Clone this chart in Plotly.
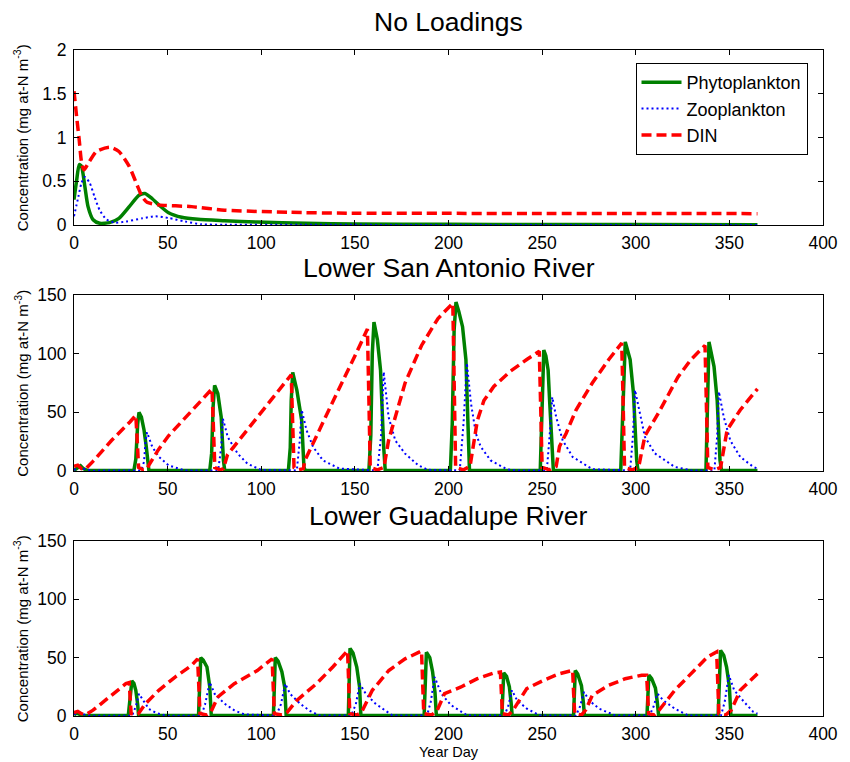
import plotly.graph_objects as go
from plotly.subplots import make_subplots

# ---------------- data: No Loadings ----------------
nl_phyto_day = [0, 1.4, 2.8, 4, 5.8, 7.5, 10.2, 13.7, 19, 24, 29.5, 34.7, 37.9, 41.8, 45.3, 50.5, 57.5, 66.3, 80.4, 97.9, 124, 150, 200, 250, 300, 365]
nl_phyto = [0.29, 0.51, 0.69, 0.67, 0.44, 0.21, 0.06, 0.02, 0.027, 0.076, 0.21, 0.34, 0.36, 0.30, 0.23, 0.14, 0.088, 0.065, 0.05, 0.034, 0.02, 0.012, 0.008, 0.006, 0.005, 0.004]
nl_zoo_day = [0, 2.3, 4, 5.8, 8.4, 11, 13.7, 17.2, 21.6, 27.7, 36.5, 43.5, 50.5, 59.3, 68, 80, 120, 200, 365]
nl_zoo = [0.10, 0.32, 0.48, 0.55, 0.48, 0.32, 0.17, 0.065, 0.027, 0.04, 0.076, 0.10, 0.08, 0.04, 0.008, 0.003, 0.002, 0.001, 0.001]
nl_din_day = [0, 1.4, 2.8, 4, 5.3, 7.5, 12, 19, 24, 29.5, 34, 36.5, 39, 45.3, 62.8, 80.4, 115, 146, 200, 250, 300, 365]
nl_din = [1.53, 1.24, 0.97, 0.72, 0.63, 0.70, 0.84, 0.89, 0.84, 0.67, 0.44, 0.32, 0.26, 0.23, 0.21, 0.17, 0.145, 0.135, 0.133, 0.132, 0.131, 0.13]

# ---------------- data: Lower San Antonio River ----------------
sa_din_day = [0, 2, 4, 6, 10, 20, 30, 33, 33.8, 34.5, 37, 39, 40, 45, 50.5, 62.8, 73.7, 74.5, 75.2, 78, 79.8, 82, 90, 100, 110, 116, 116.8, 117.5, 120, 122.5, 123.3, 130, 141.8, 150, 156.7, 157.5, 158.2, 162, 165.5, 168, 176.8, 185.6, 194.4, 202.3, 203, 203.8, 208, 211.5, 215.4, 218.9, 224.2, 233, 241.8, 248.5, 249.3, 250, 254, 257.5, 259.3, 262.8, 268.1, 276.8, 285.6, 292.5, 293.3, 294, 298, 301.5, 304.9, 312, 322.5, 329.5, 337, 337.8, 338.5, 342, 345.3, 348.8, 355.8, 365]
sa_din = [4, 5, 2, 1.5, 8, 26, 42, 47.5, 25, 3, 1, 1.5, 5, 18, 30, 51, 70, 35, 3, 1, 2, 14, 30, 49, 69, 82, 40, 3, 1, 2, 9, 32, 71, 98, 121, 60, 3, 1, 3, 26, 75, 107, 130, 143, 70, 3, 1, 4, 43, 60, 72, 85, 95, 102, 50, 3, 1, 4, 21, 32, 52, 75, 95, 109, 55, 3, 1, 3, 30, 49, 80, 95, 107, 55, 3, 1, 3, 35, 52, 70]
sa_phyto_day = [0, 2, 3.5, 5, 7, 32, 33, 34, 34.7, 36, 37.4, 38.5, 39.3, 40, 72.5, 73.5, 74.3, 75.1, 76.8, 78.6, 79.8, 80.5, 114.5, 115.5, 116, 116.8, 119, 121.6, 122.8, 123.5, 157.5, 158.5, 159.3, 160.2, 162, 163.7, 165.4, 166.2, 201, 202, 203, 204, 205.5, 207.5, 209.3, 210.5, 211.2, 249, 249.8, 250.9, 252, 253.2, 254, 255.2, 256, 292, 293, 294.4, 297, 298.8, 300.5, 301.2, 337.5, 338.3, 339.1, 341.8, 343.5, 345, 345.8, 365]
sa_phyto = [0.5, 3, 4.5, 2, 0.5, 0.5, 10, 40, 50, 46, 35, 22, 8, 0.5, 0.5, 15, 55, 73, 66, 46, 9, 0.5, 0.5, 20, 60, 84, 69, 43, 3.4, 0.5, 0.5, 30, 100, 127, 112, 86, 20, 0.5, 0.5, 40, 120, 144, 136, 123, 95, 38, 0.5, 0.5, 40, 103, 98, 86, 60, 30, 0.5, 0.5, 45, 110, 95, 66, 9, 0.5, 0.5, 50, 110, 89, 60, 9, 0.5, 0.5]
sa_zoo_day = [0, 3, 6, 10, 36, 37.4, 38.2, 39, 41.8, 45.4, 50.5, 59, 77, 78.6, 79.5, 82.1, 87.4, 92.6, 99.7, 119, 120.5, 121.6, 124.2, 127.7, 133, 141.8, 162, 164, 165.4, 168, 171.6, 176.8, 183.9, 189, 206, 208, 209.8, 212, 214.6, 217.2, 222.5, 231.2, 236, 252.5, 254, 255.4, 257.5, 261, 266.3, 276.8, 297, 298.5, 299.6, 302.3, 304.9, 310.2, 320.8, 330, 342, 343.5, 344.4, 347, 350.5, 355.8, 362.8, 365]
sa_zoo = [1, 3, 1.5, 0.3, 0.5, 8, 25, 33, 20.5, 12, 4.8, 0.5, 0.5, 20, 44.7, 29, 14.8, 6.3, 1, 0.5, 25, 52, 34.7, 20.5, 9, 2, 0.5, 30, 84.5, 46, 26, 14.8, 4.8, 1, 0.5, 40, 92, 57.7, 32, 20.7, 9, 1.5, 0.5, 0.5, 30, 63, 46, 26, 12, 1.5, 0.5, 30, 69, 49, 29, 15, 3.5, 0.5, 0.5, 30, 67.6, 46, 26, 12, 3.5, 2]

# ---------------- data: Lower Guadalupe River ----------------
gr_din_day = [0, 2, 4, 6, 10.2, 18.9, 27.7, 29.5, 30, 30.5, 33, 34.4, 38.2, 45.3, 54, 62.8, 66, 66.7, 67.3, 71, 73, 76.8, 85.6, 97.9, 105.8, 106.4, 107, 111, 113.7, 119, 129.5, 138.2, 146.1, 146.7, 147.3, 151, 153.5, 159.3, 168.1, 176.8, 185.6, 186.2, 186.8, 191, 194, 197.9, 206.7, 215.4, 224.2, 227.7, 228.2, 228.8, 232, 234.5, 241.8, 250.8, 259.3, 266.3, 266.8, 267.4, 271, 273.2, 276.8, 285.6, 294.4, 303.2, 305.8, 306.3, 306.9, 310, 312.5, 320.8, 329.5, 338.3, 343.2, 343.8, 344.4, 348, 351, 355.8, 365]
gr_din = [3, 4, 2, 1, 5, 16, 27.7, 28.6, 15, 2, 0.8, 2, 10.6, 22, 33.4, 43.4, 49, 25, 2, 0.8, 3, 16.3, 27.7, 39, 49, 25, 2, 0.8, 3, 13.4, 27.7, 42, 56, 28, 2, 0.8, 3, 22, 39, 49, 55.7, 28, 2, 0.8, 5, 19.2, 24.9, 32, 36.9, 37.7, 19, 2, 0.8, 5, 23.5, 30.6, 36.3, 39.1, 20, 2, 0.8, 5, 17.7, 26.3, 32, 35, 35, 18, 2, 0.8, 5, 22, 36.3, 50.6, 54.9, 28, 2, 0.8, 5, 22, 36.3]
gr_phyto_day = [0, 1.5, 3, 5, 29, 30, 30.9, 32, 33, 34, 34.5, 66.5, 67, 67.7, 69, 71, 72.5, 73.3, 106.5, 107, 107.5, 109, 111, 112.5, 113.3, 146.5, 147, 147.4, 149, 151, 152.5, 153.2, 187, 187.6, 188.2, 190, 191.5, 192.8, 193.5, 228.5, 229, 229.5, 231, 232.5, 233.4, 234, 266.8, 267.2, 267.7, 269, 271, 272, 272.6, 306, 306.5, 307, 308.5, 310.5, 311.5, 312.2, 344, 344.7, 345.3, 347, 348.5, 350, 350.8, 365]
gr_phyto = [1, 2.5, 1.5, 0.5, 0.5, 15, 30, 28, 22, 10, 0.5, 0.5, 25, 50, 48, 42, 25, 0.5, 0.5, 25, 50, 47, 38, 25, 0.5, 0.5, 30, 58, 54, 42, 25, 0.5, 0.5, 30, 54.6, 50, 38, 20, 0.5, 0.5, 20, 37, 34, 25, 12, 0.5, 0.5, 20, 39, 36, 26, 12, 0.5, 0.5, 18, 35, 32, 24, 12, 0.5, 0.5, 30, 56.3, 52, 42, 25, 0.5, 0.5]
gr_zoo_day = [0, 3, 6, 10, 31, 33, 34.7, 37, 40, 44, 49, 68, 70, 72.5, 75.1, 80.4, 85.6, 90.9, 108, 110.5, 112.8, 115.4, 120.7, 126, 131, 148, 150.5, 152.6, 155.8, 161, 166.3, 170, 188.5, 190.5, 192.6, 196.1, 201.4, 206.7, 210, 229.8, 231.8, 233.9, 236.6, 241.8, 248.8, 268, 270.2, 272.4, 275, 280.4, 289, 307.3, 309.5, 311.6, 314.6, 320.8, 328, 345.5, 347.5, 349.7, 352.6, 357.9, 362.8, 365]
gr_zoo = [1.5, 3, 1, 0.3, 0.3, 8, 19, 13, 6, 2.6, 0.3, 0.3, 10, 29, 19, 10.6, 4.9, 1.4, 0.3, 10, 27.7, 19, 10.6, 4.3, 0.5, 0.3, 10, 27.7, 19, 10.6, 4.9, 0.5, 0.3, 12, 33.4, 19.2, 9.2, 3.5, 0.5, 0.3, 8, 22, 13.5, 6.3, 0.5, 0.3, 8, 20.6, 13.5, 6.3, 0.5, 0.3, 8, 19.2, 13.5, 6.3, 0.5, 0.3, 12, 35, 22, 12, 3.5, 2]

titles = ["No Loadings", "Lower San Antonio River", "Lower Guadalupe River"]
series_names = ["Phytoplankton", "Zooplankton", "DIN"]
x_ticks = [0, 50, 100, 150, 200, 250, 300, 350, 400]
y_ticks_top = [0, 0.5, 1, 1.5, 2]
y_ticks_river = [0, 50, 100, 150]

GREEN = "#008000"
BLUE = "#0000ff"
RED = "#ff0000"
FONT = "Liberation Sans, Arial, Helvetica, sans-serif"

fig = make_subplots(rows=3, cols=1)

panels = [
    (nl_phyto_day, nl_phyto, nl_zoo_day, nl_zoo, nl_din_day, nl_din, "spline"),
    (sa_phyto_day, sa_phyto, sa_zoo_day, sa_zoo, sa_din_day, sa_din, "linear"),
    (gr_phyto_day, gr_phyto, gr_zoo_day, gr_zoo, gr_din_day, gr_din, "linear"),
]
for i, (pd_, pv, zd, zv, dd, dv, shape) in enumerate(panels):
    row = i + 1
    first = i == 0
    fig.add_trace(go.Scatter(x=pd_, y=pv, mode="lines", name=series_names[0],
                             line=dict(color=GREEN, width=3.5, shape=shape, smoothing=0.6),
                             showlegend=first, legendgroup="p"), row=row, col=1)
    fig.add_trace(go.Scatter(x=zd, y=zv, mode="lines", name=series_names[1],
                             line=dict(color=BLUE, width=2, dash="2px,3px", shape=shape, smoothing=0.6),
                             showlegend=first, legendgroup="z"), row=row, col=1)
    fig.add_trace(go.Scatter(x=dd, y=dv, mode="lines", name=series_names[2],
                             line=dict(color=RED, width=3.5, dash="10px,5px", shape=shape, smoothing=0.6),
                             showlegend=first, legendgroup="d"), row=row, col=1)

# domains (pixel-matched): plot area x 74..833, y panels 50-225, 295-471, 541-716
H = 666.0
domains = [
    ((716 - 225) / H, 1.0),
    ((716 - 471) / H, (716 - 295) / H),
    (0.0, (716 - 541) / H),
]
axis_common = dict(showline=True, linecolor="black", linewidth=1, mirror="ticks",
                   ticks="inside", ticklen=5, tickcolor="black", tickwidth=1,
                   showgrid=False, zeroline=False,
                   tickfont=dict(family=FONT, size=17.5, color="black"))
for i in range(3):
    xa = "xaxis" if i == 0 else f"xaxis{i+1}"
    ya = "yaxis" if i == 0 else f"yaxis{i+1}"
    fig.layout[xa].update(domain=[0, 1], range=[0, 400], tickvals=x_ticks,
                          ticklabelstandoff=2, **axis_common)
    yt = y_ticks_top if i == 0 else y_ticks_river
    yr = [0, 2] if i == 0 else [0, 150]
    fig.layout[ya].update(domain=list(domains[i]), range=yr, tickvals=yt,
                          ticklabelstandoff=3, **axis_common)

annotations = []
title_y_px = [22, 267.5, 515.5]
for t, ypx in zip(titles, title_y_px):
    annotations.append(dict(text=t, x=0.5, y=(716 - ypx) / H, xref="paper", yref="paper",
                            xanchor="center", yanchor="middle", showarrow=False,
                            font=dict(family=FONT, size=26.5, color="black")))
ylab = "Concentration (mg at-N m<sup>-3</sup>)"
for d in domains:
    annotations.append(dict(text=ylab, x=(20 - 74) / 759.0, y=(d[0] + d[1]) / 2,
                            xref="paper", yref="paper", xanchor="center", yanchor="middle",
                            textangle=-90, showarrow=False,
                            font=dict(family=FONT, size=15, color="black")))
annotations.append(dict(text="Year Day", x=0.5, y=(716 - 762) / H, xref="paper", yref="paper",
                        xanchor="center", yanchor="bottom", showarrow=False,
                        font=dict(family=FONT, size=14.5, color="black")))

fig.update_layout(
    width=850, height=762,
    margin=dict(l=74, r=17, t=50, b=46),
    paper_bgcolor="white", plot_bgcolor="white",
    annotations=annotations,
    showlegend=True,
    legend=dict(x=(643 - 74) / 759.0, y=(716 - 63) / H, xanchor="left", yanchor="top",
                bordercolor="black", borderwidth=1, bgcolor="white",
                font=dict(family=FONT, size=18, color="black"),
                tracegroupgap=0, itemwidth=40),
)

fig.write_html("out.html")
